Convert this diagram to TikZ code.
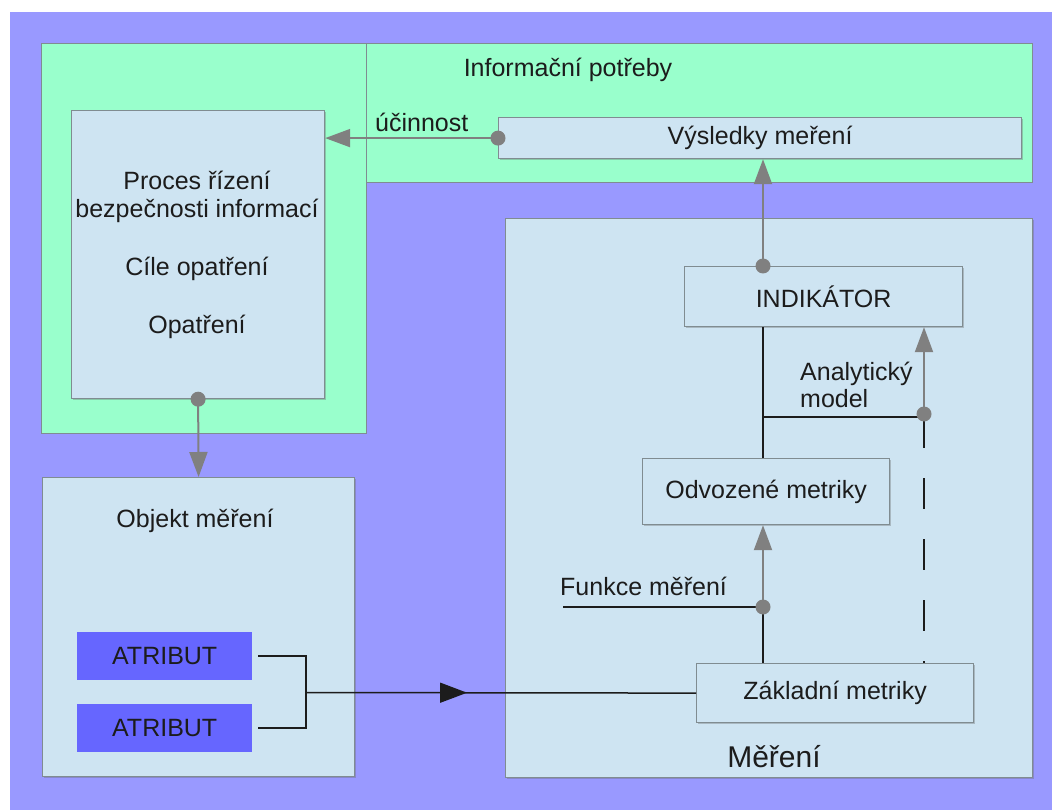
\documentclass[tikz,border=0pt]{standalone}
\usepackage{fontspec}
\setmainfont{Liberation Sans}
\usetikzlibrary{arrows.meta,decorations.markings,shadows}
\definecolor{bgpurple}{RGB}{153,153,255}
\definecolor{infogreen}{RGB}{153,255,204}
\definecolor{paleblue}{RGB}{206,228,242}
\definecolor{attrblue}{RGB}{102,102,255}
\definecolor{edgegrey}{RGB}{128,140,145}
\definecolor{linkgrey}{RGB}{128,128,128}
\definecolor{ink}{RGB}{28,28,28}
\begin{document}
\begin{tikzpicture}[x=1pt,y=-1pt,
  font=\fontsize{25}{30}\selectfont, text=ink,
  panel/.style={draw=edgegrey, line width=1.2pt, fill=paleblue, inner sep=0pt,
    anchor=north west,
    drop shadow={shadow xshift=1.5pt, shadow yshift=-1.5pt, opacity=0.35, fill=black!60}},
  greenpanel/.style={draw=edgegrey, line width=1.2pt, fill=infogreen, inner sep=0pt,
    anchor=north west},
  attrbox/.style={fill=attrblue, inner sep=0pt, anchor=north west,
    minimum width=175, minimum height=48},
  label/.style={inner sep=0pt, anchor=base},
  feed/.style={draw=linkgrey, line width=2pt, -{Triangle[length=25pt,width=18pt]}},
  wire/.style={draw=ink, line width=1.5pt},
  dotmark/.style={fill=linkgrey},
  flowarrow/.style={wire, postaction={decorate}, decoration={markings,
    mark=at position 0.413 with {\arrow{Triangle[length=27pt,width=20pt]}}}}
]
% canvas
\useasboundingbox (0,0) rectangle (1052,810);
\fill[white] (0,0) rectangle (1052,810);
\fill[bgpurple] (10,12) rectangle (1052,810);

% information needs area
\node[greenpanel, minimum width=325, minimum height=390] (infoL) at (41,43) {};
\node[greenpanel, minimum width=666, minimum height=139] (infoT) at (366,43) {};
\node[label] (infoTitle) at (568,77) {Informační potřeby};

% management process
\node[panel, minimum width=253, minimum height=288] (proc) at (71,110) {};
\node[label] (procA) at (197,190) {Proces řízení};
\node[label] (procB) at (197,218) {bezpečnosti informací};
\node[label] (procC) at (197,276) {Cíle opatření};
\node[label] (procD) at (197,333) {Opatření};

% measurement results
\node[panel, minimum width=523, minimum height=41] (res) at (498,117) {Výsledky meření};
\node[label, anchor=base west] (eff) at (375,132) {účinnost};

% object of measurement
\node[panel, minimum width=312, minimum height=299] (obj) at (42,477) {};
\node[label] (objTitle) at (195,527) {Objekt měření};
\node[attrbox] (attrA) at (77,632) {ATRIBUT};
\node[attrbox] (attrB) at (77,704) {ATRIBUT};

% measurement
\node[panel, minimum width=527, minimum height=559] (mer) at (505,218) {};
\node[label, font=\fontsize{30}{36}\selectfont] (merTitle) at (774,767) {Měření};
\node[panel, minimum width=278, minimum height=60] (ind) at (684,266) {INDIKÁTOR};
\node[panel, minimum width=247, minimum height=66] (odv) at (642,458) {Odvozené metriky};
\node[panel, minimum width=277, minimum height=59] (zak) at (696,663) {Základní metriky};
\node[label, anchor=base west] (funk) at (560,595) {Funkce měření};
\node[label, anchor=base west] (anal) at (800,380) {Analytický};
\node[label, anchor=base west] (analB) at (800,407) {model};

% connector helpers
\coordinate (spine) at (763,0);
\coordinate (fm) at (763,607);
\coordinate (fstart) at (563,607);
\coordinate (am) at (924,417);
\coordinate (br) at (306,692.5);

% grey feedback arrows
\draw[feed] (res.west) -- (res.west -| proc.east);
\draw[feed] (proc.south) -- (obj.north);
\draw[feed] (spine |- ind.north) -- (spine |- res.south);
\draw[feed] (fm) -- (fm |- odv.south);
\draw[feed] (am) -- (am |- ind.south);

% black wiring
\draw[wire] (fstart) -- (fm) -- (fm |- zak.north);
\draw[wire] (spine |- odv.north) -- (spine |- ind.south);
\draw[wire] (spine |- am) -- (am);
\draw[wire, dash pattern=on 31pt off 30pt] (am) -- (am |- zak.north);
\draw[wire] ([xshift=6pt]attrA.east) -| (br) |- ([xshift=6pt]attrB.east);
\draw[flowarrow] (br) -- (zak.west);

% joint dots
\fill[dotmark] (res.west) circle[radius=7.5pt];
\fill[dotmark] (proc.south) circle[radius=7.5pt];
\fill[dotmark] (spine |- ind.north) circle[radius=7.5pt];
\fill[dotmark] (fm) circle[radius=7.5pt];
\fill[dotmark] ([yshift=3pt]am) circle[radius=7.5pt];
\end{tikzpicture}
\end{document}
